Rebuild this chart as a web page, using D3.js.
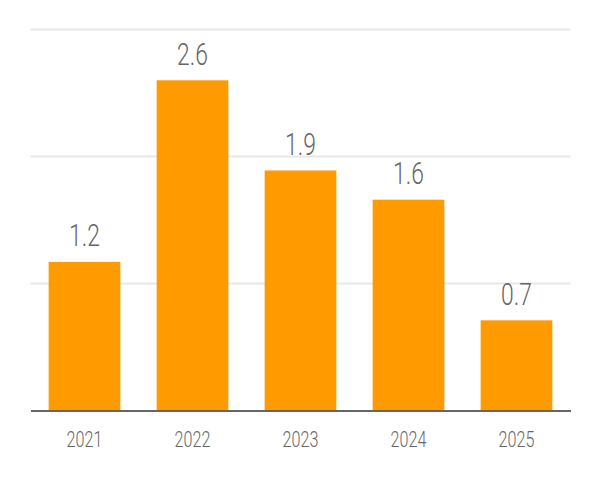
<!DOCTYPE html>
<html>
<head>
<meta charset="utf-8">
<script src="https://cdn.jsdelivr.net/npm/d3@7/dist/d3.min.js"></script>
<style>
  html, body { margin: 0; padding: 0; background: #fff; }
  svg { display: block; }
  text { font-family: Roboto, "Noto Sans", sans-serif; font-weight: 300; fill: #666; }
</style>
</head>
<body>
<svg id="chart" width="600" height="480"></svg>
<script>
const categories = ["2021", "2022", "2023", "2024", "2025"];
const values = [1.17, 2.6, 1.89, 1.66, 0.71];
const valueLabels = ["1.2", "2.6", "1.9", "1.6", "0.7"];
const gridTicks = [1, 2, 3];

const svg = d3.select("#chart");
const xScale = d3.scaleBand().domain(categories).range([30.5, 570.5]).paddingInner(0.336).paddingOuter(0.168);
const yScale = d3.scaleLinear().domain([0, 3]).range([410.5, 29.5]);
const squeeze = 0.75;

// gridlines
svg.append("g").selectAll("line").data(gridTicks).join("line")
  .attr("x1", 30.5).attr("x2", 570.5)
  .attr("y1", d => yScale(d)).attr("y2", d => yScale(d))
  .attr("stroke", "#e8e8e8").attr("stroke-width", 2);

// bars
svg.append("g").selectAll("rect").data(categories).join("rect")
  .attr("x", d => xScale(d))
  .attr("width", xScale.bandwidth())
  .attr("y", (d, i) => yScale(values[i]))
  .attr("height", (d, i) => yScale(0) - yScale(values[i]))
  .attr("fill", "#ff9a00");

// baseline axis
const xAxis = d3.axisBottom(xScale).tickSize(0).tickPadding(0);
const ax = svg.append("g").attr("transform", `translate(0,${yScale(0)})`).call(xAxis);
ax.select(".domain").attr("stroke", "#666").attr("stroke-width", 2);
ax.selectAll(".tick text")
  .attr("y", 0).attr("dy", 0)
  .attr("transform", `translate(0,36) scale(${squeeze},1)`)
  .style("font-size", "21.5px")
  .style("font-family", "Roboto, sans-serif")
  .attr("fill", "#666");

// value labels
svg.append("g").selectAll("text").data(categories).join("text")
  .attr("text-anchor", "middle")
  .attr("transform", (d, i) => `translate(${xScale(d) + xScale.bandwidth() / 2},${yScale(values[i]) - 15.5}) scale(${squeeze},1)`)
  .style("font-size", "30.5px")
  .text((d, i) => valueLabels[i]);
</script>
</body>
</html>
